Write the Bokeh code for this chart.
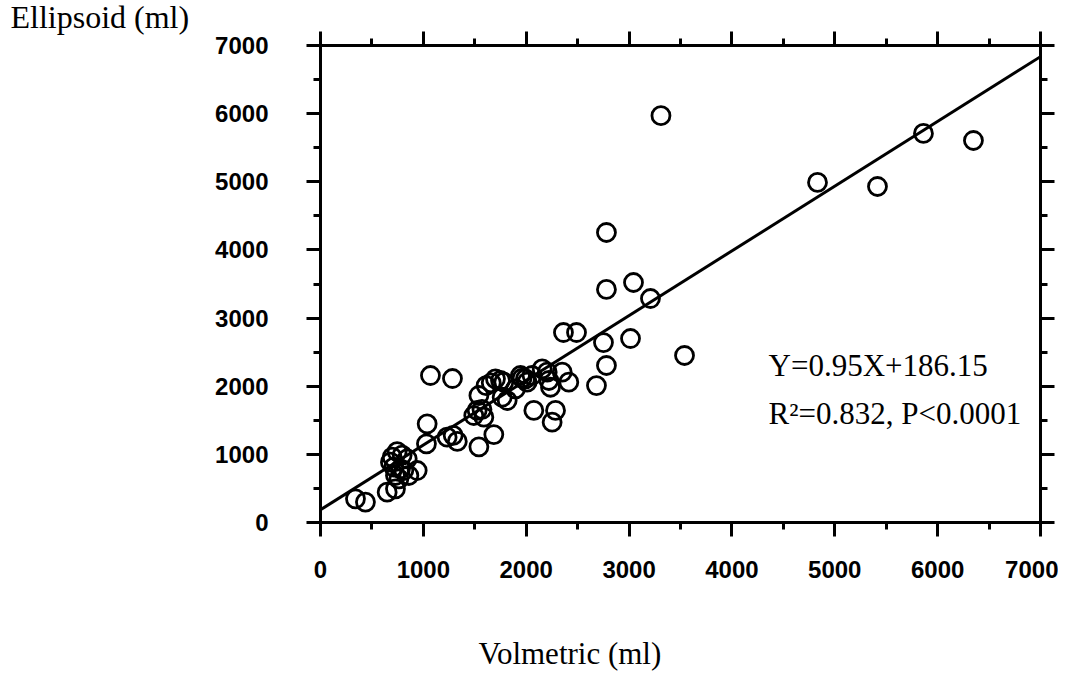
from bokeh.plotting import figure
from bokeh.models import (Range1d, LinearAxis, SingleIntervalTicker, Label, Title,
                          CustomJSTickFormatter, ColumnDataSource)
from bokeh.embed import file_html
from bokeh.resources import INLINE

# ---- data ----
volumetric = [340, 437, 648, 729, 680, 697, 713, 729, 745, 762, 778, 794, 810, 843, 859, 940,
              1030, 1037, 1069, 1231, 1290, 1330, 1283,
              1490, 1523, 1540, 1540, 1570, 1588, 1610, 1660, 1685, 1701, 1750, 1766, 1782, 1815,
              1896, 1944, 1960, 1993, 2009, 2057, 2074, 2155, 2204, 2220, 2236, 2252, 2285, 2350,
              2414, 2362, 2489,
              2683, 2751, 2780, 2780, 2780, 3014, 3043, 3208, 3310, 3539, 4832, 5415, 5862, 6348]
ellipsoid = [347, 300, 445, 494, 885, 958, 812, 690, 1040, 640, 788, 990, 763, 935, 690, 763,
             1155, 1448, 2157, 1252, 1280, 1190, 2113,
             1570, 1644, 1864, 1110, 1660, 1545, 2010, 2050, 1290, 2109, 2084, 1839, 2059, 1790,
             1962, 2157, 2120, 2109, 2059, 2157, 1644, 2255, 2206, 2084, 1985, 1472, 1644, 2206,
             2059, 2788, 2788,
             2010, 2640, 2304, 3420, 4256, 2700, 3522, 3287, 5970, 2451, 4990, 4931, 5709, 5606]
slope = 0.95
intercept = 186.15
fit_x = [0, 7000]
fit_y = [intercept + slope * v for v in fit_x]
x_title = "Volmetric (ml)"
y_title = "Ellipsoid (ml)"
eq_line1 = "Y=0.95X+186.15"
eq_line2 = "R\u00b2=0.832, P<0.0001"

SERIF = "Liberation Serif"
SANS = "Liberation Sans"

p = figure(frame_width=720, frame_height=477, output_backend="svg", toolbar_location=None,
           x_range=Range1d(0, 7000), y_range=Range1d(0, 7000),
           min_border_left=320, min_border_right=18, min_border_top=45, min_border_bottom=150,
           x_axis_location=None, y_axis_location=None)
p.grid.visible = False
p.outline_line_color = None
p.background_fill_color = "white"
p.border_fill_color = "white"


def style_axis(ax, labels=True):
    ax.ticker = SingleIntervalTicker(interval=1000, num_minor_ticks=2)
    ax.axis_line_width = 3
    ax.axis_line_color = "black"
    ax.major_tick_line_width = 3
    ax.minor_tick_line_width = 3
    ax.major_tick_line_color = "black"
    ax.minor_tick_line_color = "black"
    ax.major_tick_out = 14
    ax.major_tick_in = 0
    ax.minor_tick_out = 7
    ax.minor_tick_in = 0
    ax.major_label_text_font = SANS
    ax.major_label_text_font_style = "bold"
    ax.major_label_text_font_size = "24px"
    ax.major_label_text_color = "black"
    if not labels:
        ax.formatter = CustomJSTickFormatter(code="return ''")
        ax.major_label_text_font_size = "1px"


xb = LinearAxis()
style_axis(xb)
xb.major_label_standoff = 24
p.add_layout(xb, "below")

yl = LinearAxis()
style_axis(yl)
yl.major_label_standoff = 38
p.add_layout(yl, "left")

xt = LinearAxis()
style_axis(xt, labels=False)
xt.major_label_standoff = 0
p.add_layout(xt, "above")

yr = LinearAxis()
style_axis(yr, labels=False)
yr.major_label_standoff = 0
p.add_layout(yr, "right")

p.line(fit_x, fit_y, line_color="black", line_width=3)

src = ColumnDataSource(dict(x=volumetric, y=ellipsoid))
p.scatter("x", "y", source=src, marker="circle", size=18, fill_color=None,
          line_color="black", line_width=2.8)

p.add_layout(Label(x=4356, y=2304, text=eq_line1, text_font=SERIF, text_font_size="31px",
                   text_baseline="middle", text_align="left", text_color="black"))
p.add_layout(Label(x=4356, y=1600, text=eq_line2, text_font=SERIF, text_font_size="31px",
                   text_baseline="middle", text_align="left", text_color="black"))

t_y = Title(text=y_title, align="left", offset=-310, standoff=-7,
            text_font=SERIF, text_font_size="32px", text_font_style="normal",
            text_color="black")
p.add_layout(t_y, "above")

t_x = Title(text="\n" + x_title, align="left", offset=158, standoff=0,
            text_font=SERIF, text_font_size="31px", text_font_style="normal",
            text_line_height=1.5, text_color="black")
p.add_layout(t_x, "below")

open("out.html", "w").write(file_html(p, INLINE))
